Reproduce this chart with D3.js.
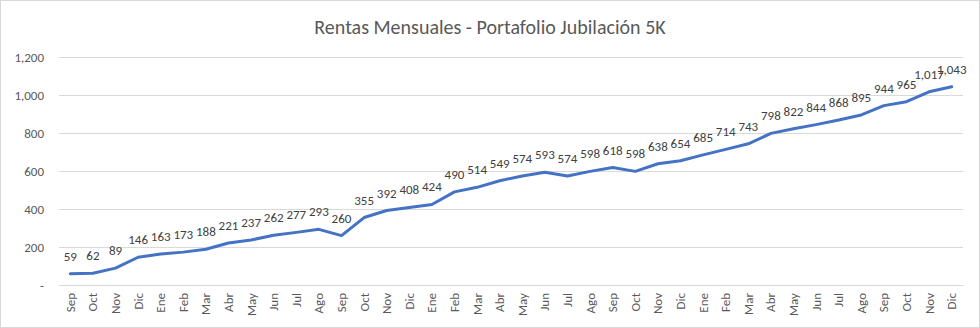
<!DOCTYPE html>
<html><head><meta charset="utf-8">
<script src="https://cdn.jsdelivr.net/npm/d3@7"></script>
<style>
body{margin:0;background:#fff;}
svg{display:block;font-family:Carlito,Calibri,"Open Sans","Liberation Sans",sans-serif;}
</style></head>
<body><svg id="c" width="980" height="328"></svg>
<script>
const title = "Rentas Mensuales - Portafolio Jubilación 5K";
const months = ["Sep","Oct","Nov","Dic","Ene","Feb","Mar","Abr","May","Jun","Jul","Ago",
"Sep","Oct","Nov","Dic","Ene","Feb","Mar","Abr","May","Jun","Jul","Ago",
"Sep","Oct","Nov","Dic","Ene","Feb","Mar","Abr","May","Jun","Jul","Ago",
"Sep","Oct","Nov","Dic"];
const values = [59,62,89,146,163,173,188,221,237,262,277,293,
260,355,392,408,424,490,514,549,574,593,574,598,
618,598,638,654,685,714,743,798,822,844,868,895,
944,965,1017,1043];
const yTicks = [0,200,400,600,800,1000,1200];

(function(){
const svg = d3.select("#c");
svg.append("rect").attr("x",0.5).attr("y",0.5).attr("width",979).attr("height",327)
  .attr("fill","#fff").attr("stroke","#d9d9d9");

const pL=59, pR=963, pT=57, pB=285;
const idx = months.map((m,i)=>i);
const x = d3.scaleBand().domain(idx).range([pL,pR]);
const y = d3.scaleLinear().domain([0,1200]).range([pB,pT]);
const fmt = d3.format(",");
const ff = 'Carlito,Calibri,"Open Sans","Liberation Sans",sans-serif';

svg.append("text").attr("x",490).attr("y",34).attr("text-anchor","middle")
  .attr("font-size",20).attr("fill","#595959").text(title);

const gy = svg.append("g").attr("transform",`translate(${pL},0)`)
  .call(d3.axisLeft(y).tickValues(yTicks).tickSize(-(pR-pL)).tickPadding(15)
  .tickFormat(d=>d===0?"-":fmt(d)));
gy.select(".domain").remove();
gy.selectAll(".tick line").attr("stroke","#d9d9d9").attr("stroke-width",1);
gy.selectAll(".tick text").attr("fill","#595959").attr("font-size",13).attr("font-family",ff);

const gx = svg.append("g").attr("transform",`translate(0,${pB})`)
  .call(d3.axisBottom(x).tickSize(0).tickFormat(i=>months[i]));
gx.select(".domain").attr("stroke","#d9d9d9");
gx.selectAll(".tick text").attr("fill","#595959").attr("font-size",13).attr("font-family",ff)
  .attr("text-anchor","end").attr("transform","rotate(-90)")
  .attr("x",-8).attr("y",0).attr("dy","0.35em");

const line = d3.line().x((d,i)=>x(i)+x.bandwidth()/2).y(d=>y(d));
svg.append("path").datum(values).attr("d",line).attr("fill","none")
  .attr("stroke","#4472C4").attr("stroke-width",3).attr("stroke-linejoin","round").attr("stroke-linecap","round");

svg.append("g").selectAll("text").data(values).join("text")
  .attr("x",(d,i)=>x(i)+x.bandwidth()/2).attr("y",d=>y(d)-13)
  .attr("text-anchor","middle").attr("font-size",13).attr("fill","#404040")
  .text(d=>fmt(d));
})();
</script></body></html>
